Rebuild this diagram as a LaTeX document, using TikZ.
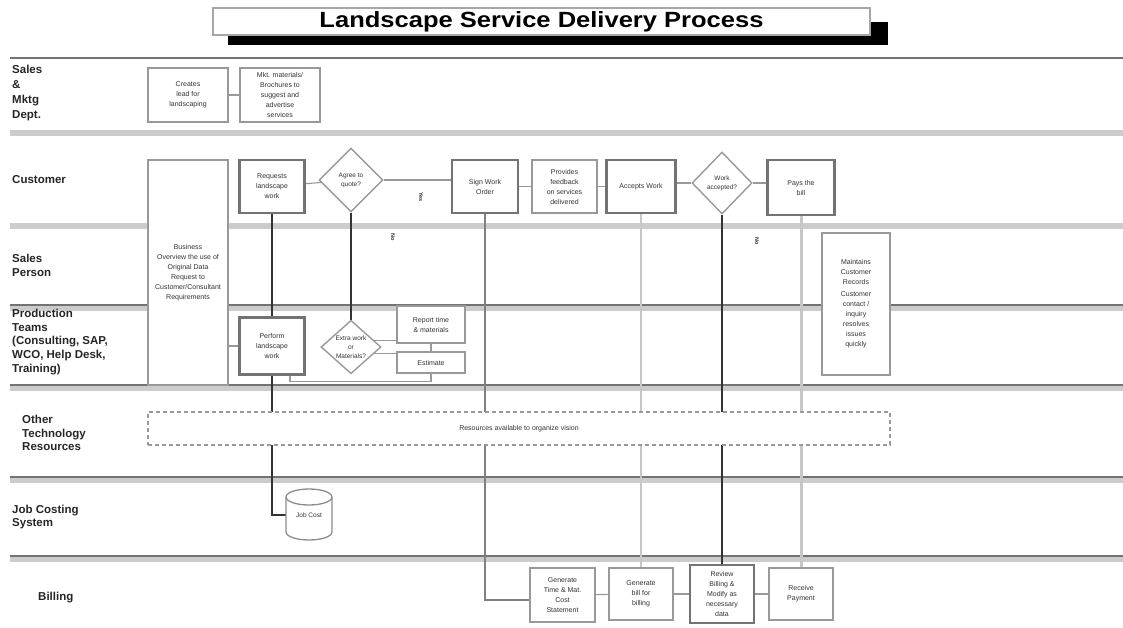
\documentclass[tikz,border=0pt]{standalone}
\usepackage{fontspec}
\setmainfont{Liberation Sans}
\usetikzlibrary{shapes.geometric,calc}

\pgfdeclarelayer{lanes}
\pgfdeclarelayer{wires}
\pgfsetlayers{lanes,wires,main}

\begin{document}
\begin{tikzpicture}[x=1pt,y=-1pt,
  lanedark/.style={draw=black!55, line width=2.4pt},
  lanelight/.style={draw=black!20, line width=6pt},
  lanelbl/.style={anchor=west, align=left, inner sep=0,
    font=\fontsize{11.5}{13.8}\selectfont\bfseries, text=black!85},
  box/.style={draw=black!40, line width=1.4pt, fill=white, align=center,
    inner sep=1pt, font=\fontsize{7}{10}\selectfont, text=black!80},
  thickbox/.style={box, draw=black!55, line width=2.2pt},
  decision/.style={diamond, draw=black!40, line width=1.4pt, fill=white,
    align=center, inner sep=0, font=\fontsize{6.5}{9}\selectfont, text=black!80},
  darkwire/.style={draw=black!80, line width=2pt},
  midwire/.style={draw=black!50, line width=1.4pt},
  lightwire/.style={draw=black!22, line width=2.6pt},
  thinwire/.style={draw=black!40, line width=1.1pt},
  tag/.style={font=\fontsize{5.5}{5.5}\selectfont\bfseries, rotate=-90,
    inner sep=0, text=black!80}
]
\begin{pgfonlayer}{lanes}
\useasboundingbox[fill=white] (0,0) rectangle (1123,628);
% swimlane separators
\draw[lanedark] (10,58) -- (1123,58);
\draw[lanelight] (10,133.5) -- (1123,133.5);
\draw[lanelight] (10,226) -- (1123,226);
\draw[lanelight] (10,308) -- (1123,308);
\draw[lanedark] (10,305) -- (1123,305);
\draw[lanelight] (10,388) -- (1123,388);
\draw[lanedark] (10,385) -- (1123,385);
\draw[lanelight] (10,480) -- (1123,480);
\draw[lanedark] (10,477) -- (1123,477);
\draw[lanelight] (10,559) -- (1123,559);
\draw[lanedark] (10,556) -- (1123,556);
\end{pgfonlayer}

% ---- title banner with drop shadow
\fill[black] (228,22) rectangle (888,45);
\node[draw=black!35, line width=1.5pt, fill=white, minimum width=657pt,
  minimum height=27pt, inner sep=0, font=\fontsize{22}{22}\selectfont\bfseries]
  (title) at (541.5,21.5) {\scalebox{1.16}[1]{Landscape Service Delivery Process}};

% ---- lane titles
\node[lanelbl, anchor=north west, font=\fontsize{11.5}{15}\selectfont\bfseries]
  (lnSales) at (12,65) {Sales\\\&\\Mktg\\Dept.};
\node[lanelbl] (lnCust) at (12,180) {Customer};
\node[lanelbl] (lnPerson) at (12,265) {Sales\\Person};
\node[lanelbl] (lnProd) at (12,342)
  {Production\\Teams\\(Consulting, SAP,\\WCO, Help Desk,\\Training)};
\node[lanelbl] (lnTech) at (22,433) {Other\\Technology\\Resources};
\node[lanelbl] (lnJob) at (12,517) {Job Costing\\System};
\node[lanelbl] (lnBill) at (38,598) {Billing};

% ---- sales & marketing lane
\node[box, minimum width=80pt, minimum height=54pt] (A1) at (188,95)
  {Creates\\lead for\\landscaping};
\node[box, minimum width=80pt, minimum height=54pt] (A2) at (280,95)
  {Mkt. materials/\\Brochures to\\suggest and\\advertise\\services};

% ---- customer lane
\node[box, minimum width=80pt, minimum height=225pt] (B0) at (188,272.5)
  {Business\\Overview the use of\\Original Data\\Request to\\Customer/Consultant\\Requirements};
\node[thickbox, minimum width=65pt, minimum height=53pt] (B1) at (272,186.5)
  {Requests\\landscape\\work};
\node[decision, minimum width=64pt, minimum height=64pt] (D1) at (351,180)
  {Agree to\\quote?};
\node[thickbox, minimum width=66pt, minimum height=53pt] (B3) at (485,186.5)
  {Sign Work\\Order};
\node[box, minimum width=65pt, minimum height=53pt] (B4) at (564.5,186.5)
  {Provides\\feedback\\on services\\delivered};
\node[thickbox, minimum width=69pt, minimum height=53pt] (B5) at (641,186.5)
  {Accepts Work};
\node[decision, minimum width=60pt, minimum height=62pt] (D2) at (722,183)
  {Work\\accepted?};
\node[thickbox, minimum width=67pt, minimum height=55pt] (B6) at (801,187.5)
  {Pays the\\bill};

\node[tag] (yesA) at (421,197) {Yes};
\node[tag] (noA) at (393,237) {No};
\node[tag] (noB) at (757,241) {No};

% ---- sales person lane
\node[box, minimum width=68pt, minimum height=142pt] (S1) at (856,304)
  {Maintains\\Customer\\Records\\[2pt]Customer\\contact /\\inquiry\\resolves\\issues\\quickly};

% ---- production teams lane
\node[thickbox, minimum width=65pt, minimum height=57pt] (P1) at (272,346)
  {Perform\\landscape\\work};
\node[decision, minimum width=60pt, minimum height=52pt] (D3) at (351,347)
  {Extra work\\or\\Materials?};
\node[box, minimum width=68pt, minimum height=37pt] (P2) at (431,324.5)
  {Report time\\\& materials};
\node[box, minimum width=68pt, minimum height=21pt] (P3) at (431,362.5)
  {Estimate};

% ---- other technology resources band (covers the wires that pass it)
\node[draw=black!40, dash pattern=on 4pt off 3pt, line width=1.3pt, fill=white,
  minimum width=742pt, minimum height=33pt, font=\fontsize{7}{9}\selectfont,
  text=black!80] (res) at (519,428.5) {Resources available to organize vision};

% ---- job costing system: database drum
\draw[draw=black!45, line width=1.3pt, fill=white]
  (286,497) -- (286,532) arc[start angle=180, end angle=360, x radius=23pt, y radius=8pt]
  -- (332,497) arc[start angle=0, end angle=180, x radius=23pt, y radius=8pt] -- cycle;
\draw[draw=black!45, line width=1.3pt]
  (286,497) arc[start angle=180, end angle=360, x radius=23pt, y radius=8pt];
\node[inner sep=0, minimum width=46pt, minimum height=50pt,
  font=\fontsize{6.5}{8}\selectfont, text=black!80] (db) at (309,515)
  {\\[4pt]Job Cost};

% ---- billing lane
\node[box, minimum width=65pt, minimum height=54pt] (C1) at (562.5,595)
  {Generate\\Time \& Mat.\\Cost\\Statement};
\node[box, minimum width=64pt, minimum height=52pt] (C2) at (641,594)
  {Generate\\bill for\\billing};
\node[thickbox, minimum width=64pt, minimum height=58pt] (C3) at (722,594)
  {Review\\Billing \&\\Modify as\\necessary\\data};
\node[box, minimum width=64pt, minimum height=52pt] (C4) at (801,594)
  {Receive\\Payment};

% ---- connectors, kept underneath the boxes
\begin{pgfonlayer}{wires}
\draw[thinwire] (A1) -- (A2);
\draw[thinwire] (B1) -- (D1);
\draw[thinwire] (D1.east) -- (B3.west |- D1.east);
\draw[thinwire] (B3) -- (B4);
\draw[thinwire] (B4) -- (B5);
\draw[thinwire] (B5.east |- D2.west) -- (D2.west);
\draw[thinwire] (D2.east) -- (B6.west |- D2.east);
\draw[thinwire] (B0.east |- P1) -- (P1.west);
\draw[thinwire] ($(D3.north east)!0.5!(D3.east)$) coordinate (d3a) -- (P2.west |- d3a);
\draw[thinwire] ($(D3.south east)!0.5!(D3.east)$) coordinate (d3b) -- (P3.west |- d3b);
\draw[thinwire] (P2) -- (P3);
\draw[thinwire] ([xshift=18pt]P1.south) -- ++(0,6) -| (P3.south);
\draw[thinwire] (C1) -- (C2);
\draw[thinwire] (C2) -- (C3);
\draw[thinwire] (C3) -- (C4);

\draw[darkwire] (B1.south) -- (P1.north);
\draw[darkwire] (D1.south) -- (D3.north);
\draw[darkwire] (P1.south) |- (db.west);
\draw[midwire] (B3.south) |- ([yshift=-5pt]C1.west);
\draw[lightwire] (B5.south) -- (C2.north);
\draw[darkwire] (D2.south) -- (C3.north);
\draw[lightwire, line width=3pt] (B6.south) -- (C4.north);
\end{pgfonlayer}
\end{tikzpicture}
\end{document}
